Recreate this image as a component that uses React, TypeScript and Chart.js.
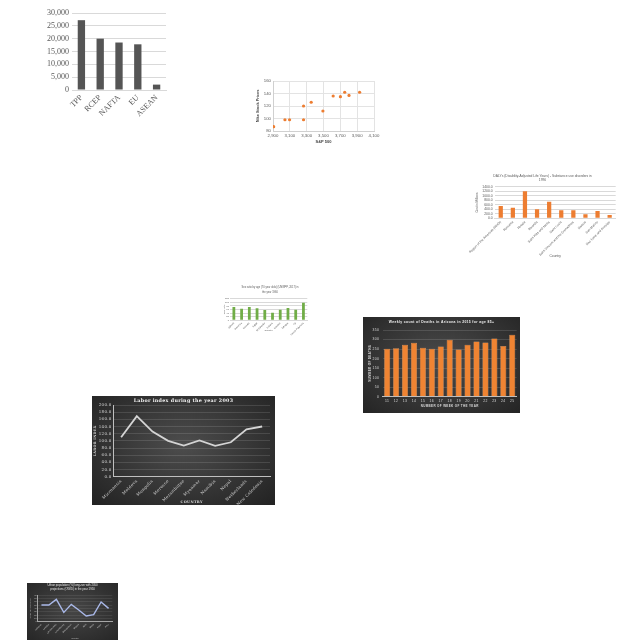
import React, { useEffect, useRef } from 'react';
import { Chart, registerables } from 'chart.js';
Chart.register(...registerables);

// ---------------- data ----------------
const blocNames = ['TPP', 'RCEP', 'NAFTA', 'EU', 'ASEAN'];
const blocValues = [27200, 20000, 18500, 17800, 2100];
const blocTicks = [0, 5000, 10000, 15000, 20000, 25000, 30000];

const sp500 = [2908, 3042, 3097, 3263, 3263, 3354, 3493, 3615, 3701, 3752, 3803, 3929];
const nikePrice = [87, 98, 98, 98, 120, 126, 112, 136, 135, 142, 137, 142];

const dalyTitle = ['DALYs (Disability-Adjusted Life Years) - Substance use disorders in', '1990'];
const dalyCountries = ['Region of the Americas (WHO)', 'Romania', 'Russia', 'Rwanda', 'Saint Kitts and Nevis', 'Saint Lucia', 'Saint Vincent and the Grenadines', 'Samoa', 'San Marino', 'Sao Tome and Principe'];
const dalyValues = [545, 472, 1194, 398, 737, 354, 354, 177, 324, 147];

const sexTitle = ['Sex ratio by age (70 year olds) (UNWPP, 2017) in', 'the year 1960'];
const sexCountries = ['Djibouti', 'Dominica', 'Ecuador', 'Egypt', 'El Salvador', 'Estonia', 'Eswatini', 'Ethiopia', 'Fiji', 'French Polynesia'];
const sexValues = [74, 64, 74, 67, 57, 42, 59, 68, 59, 98];

const deathsTitle = 'Weekly count of Deaths in Arizona in 2015 for age 85+';
const weekNumbers = ['11', '12', '13', '14', '15', '16', '17', '18', '19', '20', '21', '22', '23', '24', '25'];
const weeklyDeaths = [252, 254, 273, 283, 257, 252, 264, 299, 248, 273, 290, 285, 306, 266, 325];

const laborTitle = 'Labor index during the year 2003';
const laborCountries = ['Micronesia', 'Moldova', 'Mongolia', 'Morocco', 'Mozambique', 'Myanmar', 'Namibia', 'Nepal', 'Netherlands', 'New Caledonia'];
const laborIndex = [110, 169, 126, 100, 87, 101, 86, 96, 132, 140];

const urbanTitle = ['Urban population (%) long-run with 2050', 'projections (OWID) in the year 1950'];
const urbanCountries = ['Lebanon', 'Lesotho', 'Liechtenstein', 'Luxembourg', 'Madagascar', 'Malawi', 'Mali', 'Malta', 'Niger', 'Peru'];
const urbanShare = [50, 50, 67, 28, 52, 35, 17, 21, 59, 40];

// ---------------- layout helpers ----------------
type Frame = { x: number; y: number; w: number; h: number; L: number; T: number; R: number; B: number };

const fitX = (f: Frame) => (s: any) => { s.height = f.h - f.B; s.paddingLeft = 0; s.paddingRight = 0; };
const fitY = (f: Frame) => (s: any) => { s.width = f.L; s.paddingTop = 0; s.paddingBottom = 0; };
const padAxis = (f: Frame) => ({
  type: 'linear', position: 'right', display: true,
  ticks: { display: false }, grid: { display: false }, border: { display: false },
  afterFit: (s: any) => { s.width = f.w - f.R; s.paddingTop = 0; s.paddingBottom = 0; },
});
function chartTitle(lines: string | string[], f: Frame, cy: number, size: number, mult: number, family: string, color: string, weight: any = 'normal') {
  const n = Array.isArray(lines) ? lines.length : 1;
  const lh = size * mult;
  const padT = cy - lh / 2;
  return {
    padT,
    title: { display: true, text: lines, color, font: { family, size, weight, lineHeight: mult }, padding: { top: 0, bottom: f.T - padT - n * lh } },
  };
}
const yTitle = (text: string, cx: number, size: number, family: string, color: string, weight: any = 'normal') => ({
  display: true, text, color, font: { family, size, weight, lineHeight: 1.2 }, padding: { top: cx - size * 0.6, bottom: 0 },
});
const xTitle = (text: string, f: Frame, cy: number, size: number, family: string, color: string, weight: any = 'normal') => ({
  display: true, text, color, font: { family, size, weight, lineHeight: 1.2 }, padding: { top: 0, bottom: f.h - cy - size * 0.6 },
});
const spacing = (px: string) => ({
  id: 'letterSpacing',
  beforeDraw(chart: any) { chart.ctx.letterSpacing = px; },
  afterDraw(chart: any) { chart.ctx.letterSpacing = '0px'; },
});
const base = { animation: false, responsive: false, maintainAspectRatio: false };
const noLegend = { legend: { display: false }, tooltip: { enabled: false } };

const SANS = 'Liberation Sans';
const SERIF = 'Liberation Serif';
const DSERIF = 'DejaVu Serif';

// ---------------- frames ----------------
const f1: Frame = { x: 30, y: 0, w: 150, h: 130, L: 42, T: 13, R: 136, B: 90 };
const f2: Frame = { x: 250, y: 70, w: 160, h: 80, L: 23, T: 11, R: 124, B: 61 };
const f3: Frame = { x: 460, y: 165, w: 165, h: 100, L: 34.7, T: 21.7, R: 155.7, B: 53.3 };
const f4: Frame = { x: 220, y: 282, w: 100, h: 62, L: 10, T: 16.7, R: 87.3, B: 38.3 };
const f5: Frame = { x: 363, y: 317, w: 157, h: 96, L: 19.7, T: 13, R: 153.7, B: 79.7 };
const f6: Frame = { x: 92, y: 396, w: 183, h: 109, L: 21.3, T: 9, R: 178, B: 80.7 };
const f7: Frame = { x: 27, y: 583, w: 91, h: 57, L: 10.7, T: 12, R: 85.3, B: 38.7 };

// ---------------- configs ----------------
function cfgBlocs(): any {
  const f = f1;
  return {
    type: 'bar',
    data: { labels: blocNames, datasets: [{ data: blocValues, backgroundColor: '#555555', barPercentage: 0.39, categoryPercentage: 1 }] },
    options: {
      ...base,
      layout: { padding: { left: 0, right: 0, top: f.T, bottom: 0 } },
      plugins: { ...noLegend },
      scales: {
        x: {
          afterFit: fitX(f), grid: { display: false, drawTicks: false }, border: { color: '#d9d9d9' },
          ticks: { color: '#595959', font: { family: SERIF, size: 8 }, minRotation: 45, maxRotation: 45, autoSkip: false, padding: 3 },
        },
        y: {
          afterFit: fitY(f), min: 0, max: 30000,
          afterBuildTicks: (s: any) => { s.ticks = blocTicks.map((v) => ({ value: v })); },
          grid: { color: '#d9d9d9', drawTicks: false }, border: { display: false },
          ticks: { autoSkip: false, color: '#595959', font: { family: SERIF, size: 8 }, padding: 3, callback: (v: any) => Number(v).toLocaleString('en-US') },
        },
        pad: padAxis(f),
      },
    },
  };
}

function cfgNike(): any {
  const f = f2;
  return {
    type: 'scatter',
    data: { datasets: [{ data: sp500.map((x, i) => ({ x, y: nikePrice[i] })), backgroundColor: '#ED7D31', borderWidth: 0, pointRadius: 1.6 }] },
    options: {
      ...base,
      layout: { padding: { left: 0, right: 0, top: f.T, bottom: 0 } },
      plugins: { ...noLegend },
      scales: {
        x: {
          type: 'linear', afterFit: fitX(f), min: 2900, max: 4100,
          grid: { color: '#e3e3e3', drawTicks: false }, border: { color: '#d0d0d0' },
          ticks: { autoSkip: false, stepSize: 200, color: '#595959', font: { family: SANS, size: 4.3 }, padding: 2, maxRotation: 0, callback: (v: any) => Number(v).toLocaleString('en-US') },
          title: xTitle('S&P 500', f, 71.7, 4, SANS, '#404040', 'bold'),
        },
        y: {
          afterFit: fitY(f), min: 80, max: 160,
          grid: { color: '#e3e3e3', drawTicks: false }, border: { color: '#d0d0d0' },
          ticks: { autoSkip: false, stepSize: 20, color: '#595959', font: { family: SANS, size: 4.3 }, padding: 2 },
          title: yTitle('Nike Stock Prices', 8.3, 3.9, SANS, '#404040', 'bold'),
        },
        pad: padAxis(f),
      },
    },
  };
}

function cfgDaly(): any {
  const f = f3;
  const t = chartTitle(dalyTitle, f, 11, 3.3, 1.3, SANS, '#595959');
  return {
    type: 'bar',
    data: { labels: dalyCountries, datasets: [{ data: dalyValues, backgroundColor: '#ED7D31', barPercentage: 0.35, categoryPercentage: 1 }] },
    options: {
      ...base,
      layout: { padding: { left: 0, right: 0, top: t.padT, bottom: 0 } },
      plugins: { ...noLegend, title: t.title },
      scales: {
        x: {
          afterFit: fitX(f), grid: { display: false, drawTicks: false }, border: { color: '#d9d9d9' },
          ticks: { color: '#595959', font: { family: SANS, size: 3.2 }, minRotation: 45, maxRotation: 45, autoSkip: false, padding: 2 },
          title: xTitle('Country', f, 90.7, 3.3, SANS, '#595959'),
        },
        y: {
          afterFit: fitY(f), min: 0, max: 1400,
          grid: { color: '#d9d9d9', drawTicks: false }, border: { display: false },
          ticks: { autoSkip: false, stepSize: 200, color: '#595959', font: { family: SANS, size: 3.4 }, padding: 2, callback: (v: any) => Number(v).toFixed(1) },
          title: yTitle('Cost in Millions', 16.7, 3, SANS, '#595959'),
        },
        pad: padAxis(f),
      },
    },
  };
}

function cfgSex(): any {
  const f = f4;
  const t = chartTitle(sexTitle, f, 5.7, 2.6, 1.6, SANS, '#595959');
  return {
    type: 'bar',
    data: { labels: sexCountries, datasets: [{ data: sexValues, backgroundColor: '#70AD47', barPercentage: 0.36, categoryPercentage: 1 }] },
    options: {
      ...base,
      layout: { padding: { left: 0, right: 0, top: t.padT, bottom: 0 } },
      plugins: { ...noLegend, title: t.title },
      scales: {
        x: {
          afterFit: fitX(f), grid: { display: false, drawTicks: false }, border: { color: '#d9d9d9' },
          ticks: { color: '#595959', font: { family: SANS, size: 2.3 }, minRotation: 45, maxRotation: 45, autoSkip: false, padding: 1.5 },
          title: xTitle('Country', f, 48.7, 2.4, SANS, '#595959'),
        },
        y: {
          afterFit: fitY(f), min: 0, max: 120,
          grid: { color: '#d9d9d9', drawTicks: false }, border: { display: false },
          ticks: { autoSkip: false, stepSize: 20, color: '#595959', font: { family: SANS, size: 2.4 }, padding: 1 },
          title: yTitle('Sex ratio', 4.5, 2.4, SANS, '#595959'),
        },
        pad: padAxis(f),
      },
    },
  };
}

function cfgDeaths(): any {
  const f = f5;
  const t = chartTitle(deathsTitle, f, 5.3, 3.4, 1.2, SANS, '#f2f2f2', 'bold');
  return {
    type: 'bar',
    data: { labels: weekNumbers, datasets: [{ data: weeklyDeaths, backgroundColor: '#EF8433', borderColor: '#F7B27C', borderWidth: 0.5, barPercentage: 0.68, categoryPercentage: 1 }] },
    options: {
      ...base,
      layout: { padding: { left: 0, right: 0, top: t.padT, bottom: 0 } },
      plugins: { ...noLegend, title: t.title },
      scales: {
        x: {
          afterFit: fitX(f), grid: { display: false, drawTicks: false }, border: { color: '#bfbfbf' },
          ticks: { color: '#d9d9d9', font: { family: SANS, size: 3.4 }, maxRotation: 0, autoSkip: false, padding: 2.2 },
          title: xTitle('NUMBER OF WEEK OF THE YEAR', f, 88.8, 3, SANS, '#d9d9d9', 'bold'),
        },
        y: {
          afterFit: fitY(f), min: 0, max: 350,
          grid: { color: 'rgba(255,255,255,0.13)', drawTicks: false }, border: { display: false },
          ticks: { autoSkip: false, stepSize: 50, color: '#d9d9d9', font: { family: SANS, size: 3.4 }, padding: 3.4 },
          title: yTitle('NUMBER OF DEATHS', 7, 3, SANS, '#d9d9d9', 'bold'),
        },
        pad: padAxis(f),
      },
    },
    plugins: [spacing('0.35px')],
  };
}

function cfgLabor(): any {
  const f = f6;
  const t = chartTitle(laborTitle, f, 5, 4.8, 1.2, DSERIF, '#f2f2f2', 'bold');
  return {
    type: 'line',
    data: { labels: laborCountries, datasets: [{ data: laborIndex, borderColor: '#d4d4d4', borderWidth: 1.8, pointRadius: 0, tension: 0, fill: false }] },
    options: {
      ...base,
      layout: { padding: { left: 0, right: 0, top: t.padT, bottom: 0 } },
      plugins: { ...noLegend, title: t.title },
      scales: {
        x: {
          afterFit: fitX(f), offset: true, grid: { display: false, drawTicks: false }, border: { color: '#bfbfbf' },
          ticks: { color: '#d9d9d9', font: { family: DSERIF, size: 4 }, minRotation: 45, maxRotation: 45, autoSkip: false, padding: 2 },
          title: xTitle('COUNTRY', f, 106.3, 3.5, DSERIF, '#d9d9d9', 'bold'),
        },
        y: {
          afterFit: fitY(f), min: 0, max: 200,
          grid: { color: 'rgba(255,255,255,0.12)', drawTicks: false }, border: { color: '#bfbfbf' },
          ticks: { autoSkip: false, stepSize: 20, color: '#d9d9d9', font: { family: DSERIF, size: 4 }, padding: 1.6, callback: (v: any) => Number(v).toFixed(1) },
          title: yTitle('LABOR INDEX', 3, 3.4, DSERIF, '#d9d9d9', 'bold'),
        },
        pad: padAxis(f),
      },
    },
    plugins: [spacing('0.3px')],
  };
}

function cfgUrban(): any {
  const f = f7;
  const t = chartTitle(urbanTitle, f, 2.7, 2.8, 1.2, SANS, '#e6e6e6');
  return {
    type: 'line',
    data: { labels: urbanCountries, datasets: [{ data: urbanShare, borderColor: '#a9b8e8', borderWidth: 1.4, pointRadius: 0, tension: 0, fill: false }] },
    options: {
      ...base,
      layout: { padding: { left: 0, right: 0, top: t.padT, bottom: 0 } },
      plugins: { ...noLegend, title: t.title },
      scales: {
        x: {
          afterFit: fitX(f), offset: true, grid: { display: false, drawTicks: false }, border: { color: '#a6a6a6' },
          ticks: { color: '#bfbfbf', font: { family: SANS, size: 2.2 }, minRotation: 45, maxRotation: 45, autoSkip: false, padding: 1.5 },
          title: xTitle('Country', f, 55.3, 2.2, SANS, '#bfbfbf'),
        },
        y: {
          afterFit: fitY(f), min: 0, max: 80,
          grid: { color: 'rgba(255,255,255,0.08)', drawTicks: false }, border: { color: '#a6a6a6' },
          ticks: { autoSkip: false, stepSize: 10, color: '#bfbfbf', font: { family: SANS, size: 2.2 }, padding: 1 },
          title: yTitle('Urban population (%)', 3, 2.2, SANS, '#bfbfbf'),
        },
        pad: padAxis(f),
      },
    },
  };
}

// ---------------- components ----------------
function ChartBox({ frame, make, bg }: { frame: Frame; make: () => any; bg?: string }) {
  const ref = useRef<HTMLCanvasElement>(null);
  useEffect(() => {
    const chart = new Chart(ref.current as HTMLCanvasElement, make());
    return () => chart.destroy();
  }, []);
  return (
    <canvas
      ref={ref}
      width={frame.w}
      height={frame.h}
      style={{ position: 'absolute', left: frame.x, top: frame.y, width: frame.w, height: frame.h, background: bg || 'transparent' }}
    />
  );
}

const darkBg5 = 'radial-gradient(ellipse at 50% 45%, #4b4b4b 0%, #343434 60%, #242424 100%)';
const darkBg6 = 'radial-gradient(ellipse at 50% 45%, #4d4d4d 0%, #333333 60%, #222222 100%)';
const darkBg7 = 'radial-gradient(ellipse at 50% 45%, #474747 0%, #333333 60%, #262626 100%)';

export default function App() {
  return (
    <div style={{ position: 'absolute', left: 0, top: 0, width: 640, height: 640, background: '#ffffff', overflow: 'hidden' }}>
      <ChartBox frame={f1} make={cfgBlocs} />
      <ChartBox frame={f2} make={cfgNike} />
      <ChartBox frame={f3} make={cfgDaly} />
      <ChartBox frame={f4} make={cfgSex} />
      <ChartBox frame={f5} make={cfgDeaths} bg={darkBg5} />
      <ChartBox frame={f6} make={cfgLabor} bg={darkBg6} />
      <ChartBox frame={f7} make={cfgUrban} bg={darkBg7} />
    </div>
  );
}
